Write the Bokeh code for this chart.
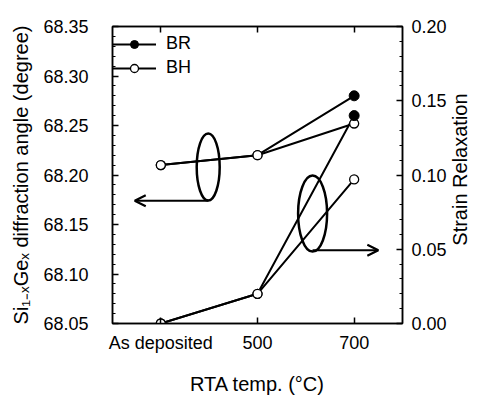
import math
from bokeh.plotting import figure
from bokeh.models import (Range1d, LinearAxis, FixedTicker, PrintfTickFormatter,
                          Legend, LegendItem, Arrow, OpenHead)
from bokeh.embed import file_html
from bokeh.resources import INLINE
import numpy as np

# ---- data ----
categories = ["As deposited", "500", "700"]
angle_BR = [68.21, 68.22, 68.28]
angle_BH = [68.21, 68.22, 68.252]
relax_BR = [0.00, 0.02, 0.14]
relax_BH = [0.00, 0.02, 0.097]
left_ticks = [68.05, 68.10, 68.15, 68.20, 68.25, 68.30, 68.35]
right_ticks = [0.00, 0.05, 0.10, 0.15, 0.20]

xs = list(range(len(categories)))
FONT = "Liberation Sans"

p = figure(width=484, height=397, output_backend="svg", toolbar_location=None,
           x_range=Range1d(-0.5, 2.5), y_range=Range1d(68.05, 68.35),
           min_border_left=112, min_border_right=79, min_border_top=26, min_border_bottom=74,
           x_axis_type=None, y_axis_type=None)
p.extra_y_ranges = {"right": Range1d(0.0, 0.20)}
p.grid.visible = False
p.outline_line_color = "black"
p.outline_line_width = 1.5
p.background_fill_color = "white"
p.border_fill_color = "white"


def style_axis(ax):
    ax.axis_line_width = 1.5
    ax.axis_line_color = "black"
    ax.major_tick_in = 6
    ax.major_tick_out = 0
    ax.minor_tick_in = 3
    ax.minor_tick_out = 0
    ax.major_tick_line_width = 1.5
    ax.minor_tick_line_width = 1.2
    ax.major_label_text_font = FONT
    ax.major_label_text_font_size = "18px"
    ax.major_label_text_color = "black"
    ax.axis_label_text_font = FONT
    ax.axis_label_text_font_size = "20px"
    ax.axis_label_text_font_style = "normal"
    ax.axis_label_text_color = "black"


# bottom x axis
xb = LinearAxis(ticker=FixedTicker(ticks=xs),
                major_label_overrides={i: c for i, c in enumerate(categories)},
                axis_label="RTA temp. (°C)")
style_axis(xb)
xb.major_label_standoff = 9
xb.axis_label_standoff = 17
p.add_layout(xb, "below")

# top x axis (ticks only)
xt = LinearAxis(ticker=FixedTicker(ticks=xs),
                major_label_overrides={i: "" for i in xs})
style_axis(xt)
xt.major_label_standoff = 0
p.add_layout(xt, "above")

# left y axis
minor_l = list(np.round(np.arange(68.05, 68.3501, 0.01), 2))
yl = LinearAxis(ticker=FixedTicker(ticks=left_ticks, minor_ticks=minor_l),
                formatter=PrintfTickFormatter(format="%.2f"),
                axis_label="Si₁₋ₓGeₓ diffraction angle (degree)")
style_axis(yl)
yl.major_label_standoff = 24
yl.axis_label_standoff = 8
p.add_layout(yl, "left")

# right y axis, label reading bottom-to-top
minor_r = list(np.round(np.arange(0.0, 0.2001, 0.01), 2))
yr = LinearAxis(y_range_name="right",
                ticker=FixedTicker(ticks=right_ticks, minor_ticks=minor_r),
                formatter=PrintfTickFormatter(format="%.2f"),
                axis_label="\u00a0" * 14 + "Strain Relaxation")
style_axis(yr)
yr.major_label_standoff = 9
yr.axis_label_standoff = 10
yr.axis_label_orientation = math.pi / 2
yr.axis_label_align = "start"
p.add_layout(yr, "right")

LW = 2
# lines
l_br = p.line(xs, angle_BR, line_color="black", line_width=LW)
l_bh = p.line(xs, angle_BH, line_color="black", line_width=LW)
p.line(xs, relax_BR, line_color="black", line_width=LW, y_range_name="right")
p.line(xs, relax_BH, line_color="black", line_width=LW, y_range_name="right")

# open markers (shared points and BH)
m_bh = p.scatter(xs, angle_BH, size=9, marker="circle", fill_color="white",
                 line_color="black", line_width=1.3)
p.scatter(xs, relax_BH, size=9, marker="circle", fill_color="white",
          line_color="black", line_width=1.3, y_range_name="right")
p.scatter(xs[:2], angle_BR[:2], size=9, marker="circle", fill_color="white",
          line_color="black", line_width=1.3)
p.scatter(xs[:2], relax_BR[:2], size=9, marker="circle", fill_color="white",
          line_color="black", line_width=1.3, y_range_name="right")
# filled BR end points
m_br = p.scatter(xs[2:], angle_BR[2:], size=10, marker="circle", fill_color="black",
                 line_color="black")
p.scatter(xs[2:], relax_BR[2:], size=10, marker="circle", fill_color="black",
          line_color="black", y_range_name="right")

# annotations: ellipses with arrows pointing to the relevant axis
p.ellipse(x=[0.49, 1.57], y=[68.208, 68.161], width=[23, 29], height=[67, 76],
          width_units="screen", height_units="screen", fill_color=None,
          line_color="black", line_width=2.5)
p.add_layout(Arrow(end=OpenHead(size=11, line_width=2.2), x_start=0.49, y_start=68.174,
                   x_end=-0.27, y_end=68.174, line_width=2))
p.add_layout(Arrow(end=OpenHead(size=11, line_width=2.2), x_start=1.57, y_start=68.124,
                   x_end=2.25, y_end=68.124, line_width=2))

# legend
legend = Legend(items=[LegendItem(label="BR", renderers=[l_br, m_br]),
                       LegendItem(label="BH", renderers=[l_bh, m_bh])],
                location=(0, 245), padding=0, margin=0, spacing=3,
                glyph_width=44, glyph_height=20, label_height=20,
                label_standoff=10, border_line_color=None,
                background_fill_alpha=0, label_text_font=FONT,
                label_text_font_size="18px", label_text_color="black")
p.add_layout(legend)

open("out.html", "w").write(file_html(p, INLINE))
